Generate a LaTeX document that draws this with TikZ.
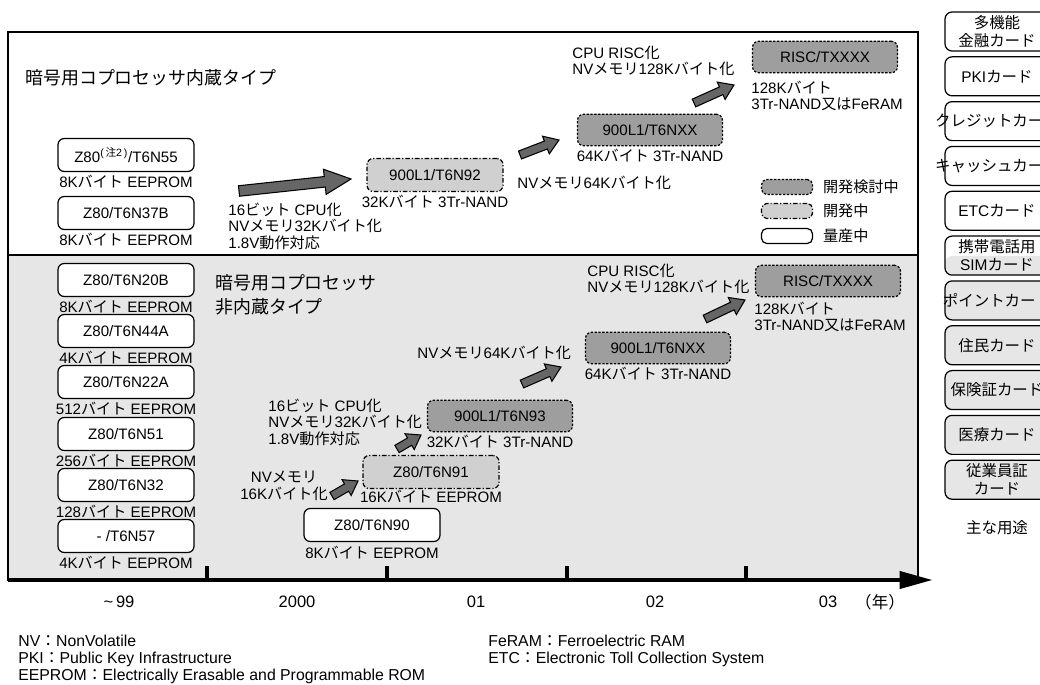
\documentclass[tikz,border=0pt]{standalone}
\usepackage{fontspec}
\setmainfont{Liberation Sans}
\newfontfamily\jpfont{Noto Sans CJK JP}
\usetikzlibrary{arrows.meta, positioning, calc}

\definecolor{lowgray}{HTML}{E6E6E6}
\definecolor{devgray}{HTML}{D0D0D0}
\definecolor{plangray}{HTML}{9E9E9E}
\definecolor{arrgray}{HTML}{666666}

\tikzstyle{plandash} = [dash pattern=on 1.3pt off 0.9pt]
\tikzstyle{devdash} = [dash pattern=on 2.6pt off 1.1pt on 0.7pt off 1.1pt]
\tikzstyle{chip} = [rectangle, rounded corners=3.5pt, minimum width=2.72cm, minimum height=0.66cm, inner sep=1pt, line width=0.7pt, draw=black, font=\fontsize{8.6}{9.4}\selectfont]
\tikzstyle{prod} = [chip, fill=white]
\tikzstyle{devel} = [chip, fill=devgray, devdash]
\tikzstyle{plan} = [chip, fill=plangray, plandash, minimum width=2.9cm, minimum height=0.63cm]
\tikzstyle{keybox} = [rectangle, rounded corners=3pt, minimum width=1.02cm, minimum height=0.3cm, inner sep=0pt, line width=0.7pt, draw=black]
\tikzstyle{lbl} = [inner sep=0.5pt, font=\fontsize{8.6}{9.4}\selectfont]
\tikzstyle{note} = [inner sep=0pt, align=left, font=\fontsize{8.6}{9.4}\selectfont]
\tikzstyle{heading} = [inner sep=0pt, align=left, font=\fontsize{10.2}{13.6}\selectfont]
\tikzstyle{usebox} = [rectangle, rounded corners=4pt, minimum width=2.08cm, minimum height=0.78cm, inner sep=0pt, line width=0.7pt, draw=black, align=center, font=\fontsize{8.8}{10.2}\selectfont,
  path picture={\fill[lowgray] (path picture bounding box.south west) rectangle (path picture bounding box.east |- split);}]
\tikzstyle{year} = [inner sep=0pt, font=\fontsize{9.4}{10}\selectfont]
\tikzstyle{foot} = [inner sep=0pt, anchor=west, font=\fontsize{9}{10}\selectfont]
\tikzstyle{fat} = [fill=arrgray, draw=black, line width=0.6pt, line join=miter]

% block arrow: tail, tip, half shaft, half head, head length
\newcommand{\fatarrow}[5]{%
  \coordinate (fa-b) at ($(#2)!#5!(#1)$);
  \filldraw[fat] ($(#1)!#3!90:(#2)$) -- ($(fa-b)!#3!-90:(#1)$) -- ($(fa-b)!#4!-90:(#1)$) -- (#2)
    -- ($(fa-b)!#4!90:(#1)$) -- ($(fa-b)!#3!90:(#1)$) -- ($(#1)!#3!-90:(#2)$) -- cycle;}

\begin{document}
\begin{tikzpicture}[x=0.02cm, y=-0.02cm]
    \useasboundingbox (0,0) rectangle (1040,685);
    \clip (0,0) rectangle (1040,685);

    % panels and time axis
    \draw[line width=1pt] (8,32) rectangle (918,255);
    \filldraw[fill=lowgray, line width=1pt] (8,255) rectangle (918,580);
    \coordinate (split) at (0,256);
    \draw[line width=2.2pt] (207,566) -- (207,579) (387,566) -- (387,579) (567,566) -- (567,579) (746,566) -- (746,579);
    \coordinate (ax0) at (8,580);
    \coordinate (ax1) at (933,580);
    \draw[line width=2.8pt, -{Triangle[length=19pt, width=9.5pt]}] (ax0) -- (ax1);

    % upper panel: coprocessor built in
    \node (titleT) [heading, anchor=west] at (25,78) {\jpfont 暗号用コプロセッサ内蔵タイプ};
    \node (z55) [prod] at (126,155) {Z80\textsuperscript{(\,{\jpfont 注}2\,)}/T6N55};
    \node (z55m) [lbl, below=1pt of z55] {8K{\jpfont バイト} EEPROM};
    \node (z37b) [prod] at (126,213) {Z80/T6N37B};
    \node (z37bm) [lbl, below=1pt of z37b] {8K{\jpfont バイト} EEPROM};

    \node (n92) [devel] at (435,175) {900L1/T6N92};
    \node (n92m) [lbl, below=1pt of n92] {32K{\jpfont バイト} 3Tr-NAND};
    \node (nxxT) [plan] at (650,130) {900L1/T6NXX};
    \node (nxxTm) [lbl, below=1pt of nxxT] {64K{\jpfont バイト} 3Tr-NAND};
    \node (riscT) [plan] at (825,57) {RISC/TXXXX};
    \node (riscTm) [lbl, align=left, below right=3.5pt and -1pt of riscT.south west] {128K{\jpfont バイト}\\3Tr-NAND{\jpfont 又は}FeRAM};

    \node (tA) [note, anchor=west] at (228,226) {16{\jpfont ビット} CPU{\jpfont 化}\\NV{\jpfont メモリ}32K{\jpfont バイト化}\\1.8V{\jpfont 動作対応}};
    \node (tB) [note, anchor=west] at (517,183) {NV{\jpfont メモリ}64K{\jpfont バイト化}};
    \node (tC) [note, anchor=west] at (572,61) {CPU RISC{\jpfont 化}\\NV{\jpfont メモリ}128K{\jpfont バイト化}};

    \coordinate (t1) at (239,191);
    \coordinate (h1) at (351,179);
    \coordinate (t2) at (520,155);
    \coordinate (h2) at (559,140);
    \coordinate (t3) at (694,103);
    \coordinate (h3) at (734,85);
    \fatarrow{t1}{h1}{3pt}{7.2pt}{15pt}
    \fatarrow{t2}{h2}{2.4pt}{5.4pt}{8pt}
    \fatarrow{t3}{h3}{2.4pt}{5.4pt}{8pt}

    % legend
    \node (k1) [keybox, fill=plangray, plandash] at (787,187) {};
    \node (k1t) [lbl, right=5pt of k1] {\jpfont 開発検討中};
    \node (k2) [keybox, fill=devgray, devdash] at (787,211) {};
    \node (k2t) [lbl, right=5pt of k2] {\jpfont 開発中};
    \node (k3) [keybox, fill=white] at (787,236) {};
    \node (k3t) [lbl, right=5pt of k3] {\jpfont 量産中};

    % lower panel: coprocessor not built in
    \node (titleL) [heading, anchor=west] at (215,295) {\jpfont 暗号用コプロセッサ\\\jpfont 非内蔵タイプ};
    \node (z20b) [prod] at (126,280) {Z80/T6N20B};
    \node (z20bm) [lbl, below=1pt of z20b] {8K{\jpfont バイト} EEPROM};
    \node (z44a) [prod] at (126,331) {Z80/T6N44A};
    \node (z44am) [lbl, below=1pt of z44a] {4K{\jpfont バイト} EEPROM};
    \node (z22a) [prod] at (126,382) {Z80/T6N22A};
    \node (z22am) [lbl, below=1pt of z22a] {512{\jpfont バイト} EEPROM};
    \node (z51) [prod] at (126,434) {Z80/T6N51};
    \node (z51m) [lbl, below=1pt of z51] {256{\jpfont バイト} EEPROM};
    \node (z32) [prod] at (126,485) {Z80/T6N32};
    \node (z32m) [lbl, below=1pt of z32] {128{\jpfont バイト} EEPROM};
    \node (z57) [prod] at (126,536) {- /T6N57};
    \node (z57m) [lbl, below=1pt of z57] {4K{\jpfont バイト} EEPROM};

    \node (z90) [prod] at (372,525) {Z80/T6N90};
    \node (z90m) [lbl, below=1.5pt of z90] {8K{\jpfont バイト} EEPROM};
    \node (z91) [devel] at (431,472) {Z80/T6N91};
    \node (z91m) [lbl, below=0pt of z91] {16K{\jpfont バイト} EEPROM};
    \node (n93) [plan] at (500,416) {900L1/T6N93};
    \node (n93m) [lbl, below=1pt of n93] {32K{\jpfont バイト} 3Tr-NAND};
    \node (nxxL) [plan] at (658,348) {900L1/T6NXX};
    \node (nxxLm) [lbl, below=1pt of nxxL] {64K{\jpfont バイト} 3Tr-NAND};
    \node (riscL) [plan] at (828,281) {RISC/TXXXX};
    \node (riscLm) [lbl, align=left, below right=2pt and -1pt of riscL.south west] {128K{\jpfont バイト}\\3Tr-NAND{\jpfont 又は}FeRAM};

    \node (tD) [note, align=center] at (284,486) {NV{\jpfont メモリ}\\16K{\jpfont バイト化}};
    \node (tE) [note, anchor=west] at (268,422) {16{\jpfont ビット} CPU{\jpfont 化}\\NV{\jpfont メモリ}32K{\jpfont バイト化}\\1.8V{\jpfont 動作対応}};
    \node (tF) [note, anchor=west] at (417,353) {NV{\jpfont メモリ}64K{\jpfont バイト化}};
    \node (tG) [note, anchor=west] at (587,279) {CPU RISC{\jpfont 化}\\NV{\jpfont メモリ}128K{\jpfont バイト化}};

    \coordinate (t4) at (332,496);
    \coordinate (h4) at (358,481);
    \coordinate (t5) at (397,449);
    \coordinate (h5) at (421,435);
    \coordinate (t6) at (522,384);
    \coordinate (h6) at (561,367);
    \coordinate (t7) at (705,319);
    \coordinate (h7) at (745,300);
    \fatarrow{t4}{h4}{2.4pt}{5.2pt}{7.5pt}
    \fatarrow{t5}{h5}{2.4pt}{5.2pt}{7.5pt}
    \fatarrow{t6}{h6}{2.4pt}{5.4pt}{8pt}
    \fatarrow{t7}{h7}{2.4pt}{5.4pt}{8pt}

    % years
    \node (y99) [year] at (119,602) {\textasciitilde\,99};
    \node (y00) [year] at (297,602) {2000};
    \node (y01) [year] at (476,602) {01};
    \node (y02) [year] at (655,602) {02};
    \node (y03) [year] at (828,602) {03};
    \node (yunit) [year] at (880,602) {\jpfont （年）};

    % abbreviations
    \node (f1) [foot] at (18,641) {NV{\jpfont ：}NonVolatile};
    \node (f2) [foot] at (18,659) {PKI{\jpfont ：}Public Key Infrastructure};
    \node (f3) [foot] at (18,676) {EEPROM{\jpfont ：}Electrically Erasable and Programmable ROM};
    \node (f4) [foot] at (488,641) {FeRAM{\jpfont ：}Ferroelectric RAM};
    \node (f5) [foot] at (488,659) {ETC{\jpfont ：}Electronic Toll Collection System};

    % main uses
    \node (u1) [usebox] at (997,31.5) {\jpfont 多機能\\\jpfont 金融カード};
    \node (u2) [usebox, below=0.092cm of u1] {PKI{\jpfont カード}};
    \node (u3) [usebox, below=0.092cm of u2] {\makebox[0pt]{\jpfont クレジットカード}};
    \node (u4) [usebox, below=0.092cm of u3] {\makebox[0pt]{\jpfont キャッシュカード}};
    \node (u5) [usebox, below=0.092cm of u4] {ETC{\jpfont カード}};
    \node (u6) [usebox, below=0.092cm of u5] {\jpfont 携帯電話用\\SIM{\jpfont カード}};
    \node (u7) [usebox, below=0.092cm of u6] {\makebox[0pt]{\jpfont ポイントカード}};
    \node (u8) [usebox, below=0.092cm of u7] {\jpfont 住民カード};
    \node (u9) [usebox, below=0.092cm of u8] {\jpfont 保険証カード};
    \node (u10) [usebox, below=0.092cm of u9] {\jpfont 医療カード};
    \node (u11) [usebox, below=0.092cm of u10] {\jpfont 従業員証\\\jpfont カード};
    \node (uses) [usebox, draw=none, path picture={}, below=0.15cm of u11] {\jpfont 主な用途};
\end{tikzpicture}
\end{document}
